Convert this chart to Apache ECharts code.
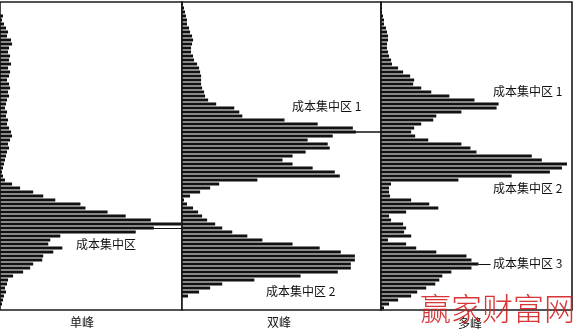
<!DOCTYPE html>
<html>
<head>
<meta charset="utf-8">
<script src="https://cdn.jsdelivr.net/npm/echarts@6/dist/echarts.min.js"></script>
<style>
html,body{margin:0;padding:0;background:#fff;}
#c{width:574px;height:335px;}
</style>
</head>
<body>
<div id="c"></div>
<script>
// Price levels (top = highest), one bar per level
var levels = [];
for (var k = 0; k < 77; k++) levels.push('P' + k);

var panelTitles = ['单峰', '双峰', '多峰'];

// 单峰 chip distribution
var singlePeak = [0,0,0,3,2,4,6,8,7,11,12,9,8,10,9,11,8,10,9,7,9,10,8,9,7,6,5,7,6,8,7,9,11,12,10,8,9,7,6,5,4,3,2,3,5,12,20,33,43,55,80,85,107,125,150,180,153,135,60,50,48,62,53,43,42,33,30,23,13,8,7,5,6,4,3,2,0];
// 双峰 chip distribution
var doublePeak = [1,2,3,4,5,5,7,8,10,11,10,9,9,11,12,15,17,18,19,19,19,20,22,23,26,34,52,57,60,102,135,170,173,150,125,145,147,123,110,100,110,130,152,157,75,37,28,18,8,2,5,11,16,20,25,33,40,50,65,80,110,137,158,172,172,168,168,155,118,72,40,28,17,6,0,0,0];
// 多峰 chip distribution
var multiPeak = [1,1,1,2,3,3,5,6,7,7,6,6,7,8,10,11,17,22,29,33,32,40,50,68,93,117,115,80,55,52,40,33,30,34,47,80,89,95,150,160,185,180,168,130,77,10,8,8,9,30,48,57,25,8,10,22,25,23,30,7,25,35,55,85,90,97,90,70,61,58,54,45,36,30,17,8,3];

var annoSingle = ['成本集中区'];
var annoDouble = ['成本集中区 1', '成本集中区 2'];
var annoMulti = ['成本集中区 1', '成本集中区 2', '成本集中区 3'];
var watermark = '赢家财富网';

var chart = echarts.init(document.getElementById('c'));

var panels = [
  {left: 0, width: 182, data: singlePeak},
  {left: 182, width: 199, data: doublePeak},
  {left: 381, width: 191, data: multiPeak}
];

var grids = [], xAxes = [], yAxes = [], series = [];
panels.forEach(function (p, idx) {
  grids.push({left: p.left, top: 2, width: p.width, height: 308,
    show: true, borderColor: '#1a1a1a', borderWidth: 1.6, backgroundColor: '#fff'});
  xAxes.push({type: 'value', gridIndex: idx, min: 0, max: p.width - 1, show: false});
  yAxes.push({type: 'category', gridIndex: idx, data: levels, inverse: true, show: false});
  series.push({type: 'bar', xAxisIndex: idx, yAxisIndex: idx, data: p.data,
    barWidth: 3, itemStyle: {color: '#111'}, silent: true, animation: false});
});

// indicator lines
series[0].markLine = {silent: true, symbol: 'none', animation: false,
  lineStyle: {color: '#111', width: 1, type: 'solid'}, label: {show: false},
  data: [[{coord: [140, 55.7]}, {coord: [181, 55.7]}]]};
series[1].markLine = {silent: true, symbol: 'none', animation: false,
  lineStyle: {color: '#111', width: 1.5, type: 'solid'}, label: {show: false},
  data: [[{coord: [170, 31.9]}, {coord: [198, 31.9]}]]};
series[2].markLine = {silent: true, symbol: 'none', animation: false,
  lineStyle: {color: '#111', width: 1, type: 'solid'}, label: {show: false},
  data: [[{coord: [97, 65.2]}, {coord: [109, 65.2]}]]};

var txt = function (x, y, s, extra) {
  var o = {type: 'text', left: x, top: y, z: 10, silent: true,
    style: {text: s, fill: '#111', font: '12px "Noto Sans CJK SC"'}};
  if (extra) for (var k in extra) o.style[k] = extra[k];
  return o;
};

var graphics = [
  txt(76, 238, annoSingle[0]),
  txt(292, 100, annoDouble[0]),
  txt(266, 285, annoDouble[1]),
  txt(493, 85, annoMulti[0]),
  txt(493, 182, annoMulti[1]),
  txt(493, 257, annoMulti[2]),
  txt(70, 316, panelTitles[0]),
  txt(267, 316, panelTitles[1]),
  txt(458, 317, panelTitles[2]),
  {type: 'text', left: 420, top: 293, z: 20, silent: true,
   style: {text: watermark, fill: '#d42020', opacity: 0.9,
     font: '300 31px "Noto Sans CJK SC"', letterSpacing: 0}}
];

chart.setOption({
  animation: false,
  grid: grids, xAxis: xAxes, yAxis: yAxes, series: series,
  graphic: graphics
});
</script>
</body>
</html>
